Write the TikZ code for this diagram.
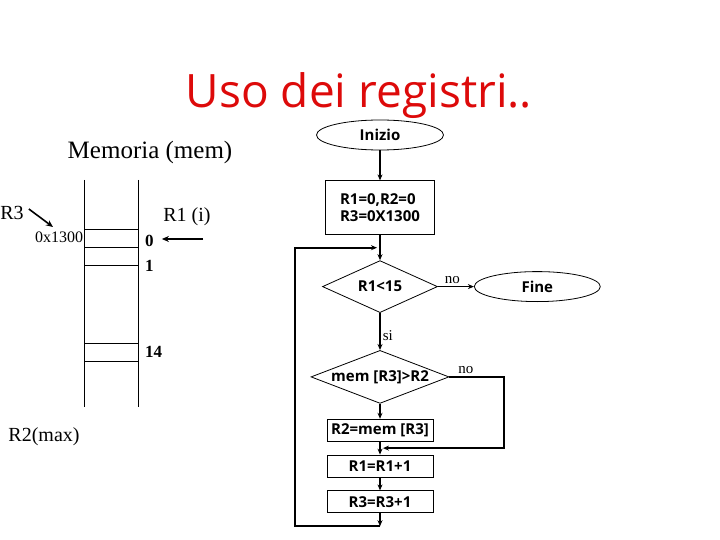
\documentclass[tikz,border=0pt]{standalone}
\usepackage{fontspec}
\setmainfont{Liberation Serif}
\setsansfont{Open Sans}
\usetikzlibrary{arrows.meta, positioning, calc, shapes.geometric}
\definecolor{rgInk}{HTML}{000000}
\definecolor{rgTitle}{HTML}{DD0A0A}
\tikzset{
  stepbox/.style={
    draw=rgInk, line width=0.8pt, fill=white, inner sep=3pt,
    font=\sffamily\bfseries\fontsize{15}{17}\selectfont, text=rgInk,
    minimum width=106pt, minimum height=22pt
  },
  terminal/.style={stepbox, ellipse, minimum width=127pt, minimum height=30pt},
  test/.style={stepbox, diamond, inner sep=0pt},
  flow/.style={-{Stealth[length=6pt, width=5pt]}, line width=1.6pt, draw=rgInk},
  ptr/.style={-{Stealth[length=7pt, width=6pt]}, line width=1.6pt, draw=rgInk},
  memline/.style={line width=0.8pt, draw=rgInk},
  lbl/.style={font=\fontsize{15}{17}\selectfont, text=rgInk, inner sep=2pt},
  reg/.style={font=\fontsize{20}{23}\selectfont, text=rgInk, inner sep=0pt},
  cell/.style={font=\bfseries\fontsize{17}{19}\selectfont, inner sep=0pt, anchor=west},
}
\begin{document}
\begin{tikzpicture}[x=1pt, y=-1pt, node distance=25pt]
  \useasboundingbox (0,0) rectangle (720,540);
  \node[font=\sffamily\fontsize{46}{52}\selectfont, text=rgTitle] (title) at (359,96) {Uso dei registri..};

  % memoria
  \node[font=\fontsize{25}{28}\selectfont] (memtitle) at (150,152) {Memoria (mem)};
  \draw[memline] (84,180) -- (84,407) (138,180) -- (138,407);
  \foreach \y in {229,247,265,343,361}
    \draw[memline] (84,\y) -- (138,\y);
  \node[cell] (c0) at (145,241) {0};
  \node[cell] (c1) at (145,266) {1};
  \node[cell] (c14) at (145,352) {14};
  \node[reg] (r1lbl) at (187,217) {R1 (i)};
  \coordinate (r1tail) at (203,239);
  \draw[ptr] (r1tail) -- ([xshift=8pt]c0.east |- r1tail);
  \node[reg] (r3lbl) at (12,213) {R3};
  \node[font=\fontsize{16}{18}\selectfont, inner sep=0pt] (base) at (59,237) {0x1300};
  \coordinate (r3tip) at (53,227);
  \draw[ptr] ([shift={(5,-4)}]r3lbl.east) -- (r3tip);
  \node[reg] (r2lbl) at (44,437) {R2(max)};

  % diagramma di flusso
  \node[terminal] (start) at (380,135) {Inizio};
  \node[stepbox, below=30pt of start, align=left, minimum width=109pt, minimum height=54pt] (init) {R1=0,R2=0\\R3=0X1300};
  \node[test, below=of init, minimum width=115pt, minimum height=52pt, aspect=2.2] (cond1) {R1<15};
  \node[terminal, right=36pt of cond1, minimum width=126pt] (fine) {Fine};
  \node[test, below=37pt of cond1, minimum width=138pt, minimum height=53pt, aspect=2.6] (cond2) {mem [R3]>R2};
  \node[stepbox, below=15pt of cond2] (upd) {R2=mem [R3]};
  \node[stepbox, below=13pt of upd] (inc1) {R1=R1+1};
  \node[stepbox, below=13pt of inc1] (inc3) {R3=R3+1};

  \coordinate (merge1) at ($(init.south)!0.5!(cond1.north)$);
  \coordinate (merge2) at ($(upd.south)!0.5!(inc1.north)$);
  \coordinate[below=13pt of inc3] (loopbot);
  \coordinate (loopleft) at (295,0);
  \coordinate (noright) at (504,0);

  \draw[flow] (start) -- (init);
  \draw[flow] (init) -- (cond1);
  \draw[flow] (cond1) -- node[lbl, above, pos=0.4] {no} (fine);
  \draw[flow] (cond1) -- node[lbl, right, pos=0.6] {si} (cond2);
  \draw[flow] (cond2) -- (upd);
  \draw[flow] (upd) -- (inc1);
  \draw[flow] (inc1) -- (inc3);
  \draw[flow] (inc3) -- (loopbot);
  \draw[flow, shorten >=3pt] (loopbot) -- (loopbot -| loopleft) |- (merge1);
  \draw[flow, shorten >=3pt] (cond2.east) -- node[lbl, above, pos=0.3] {no} (cond2.east -| noright) |- (merge2);
\end{tikzpicture}
\end{document}
